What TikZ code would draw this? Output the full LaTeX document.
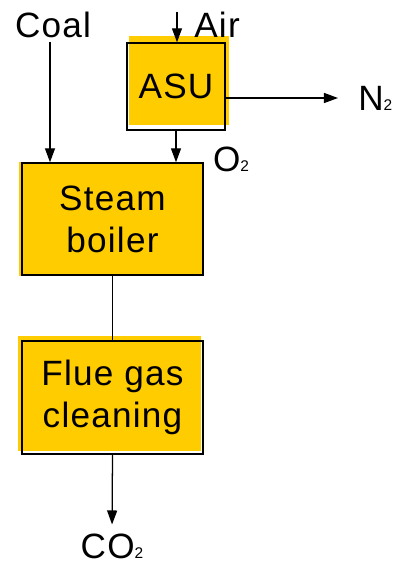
\documentclass[tikz,border=0pt]{standalone}
\usepackage{fontspec}
\setmainfont{Liberation Sans}[LetterSpace=3.5]
\usetikzlibrary{arrows.meta,backgrounds}
\definecolor{Amber}{HTML}{FFCC00}
\newcommand{\lowidx}[1]{{\fontsize{11}{11}\selectfont #1}}

\begin{document}
\begin{tikzpicture}[x=.025cm,y=-.025cm,
unit/.style={draw=black,line width=1pt,align=center,inner sep=0pt,font=\fontsize{25}{30}\selectfont},
tag/.style={inner sep=0pt,font=\fontsize{25}{30}\selectfont},
arrow/.style={-{Triangle[length=3.5mm,width=2.5mm]},line width=.9pt},
link/.style={line width=.9pt}]
\useasboundingbox (0,0) rectangle (397,564);
\node[unit,minimum width=2.45cm,minimum height=2.175cm](asu) at (176,86.5){ASU};
\node[unit,minimum width=4.525cm,minimum height=2.8cm](boiler) at (112.5,219){Steam\\boiler};
\node[unit,minimum width=4.525cm,minimum height=2.825cm](flue) at (112.5,397.5){Flue gas\\cleaning};
\node[tag](coal) at (53,25){Coal};
\node[tag](air) at (217,25){Air};
\node[tag](oxy) at (231,159){O\lowidx{2}};
\node[tag,anchor=west](nitro) at (358,98){N\lowidx{2}};
\node[tag](co2) at (112,546){CO\lowidx{2}};
\coordinate (airin) at (177,12);
\coordinate (coalout) at (50,42);
% yellow fills sit slightly off the outlines
\begin{scope}[on background layer]
\fill[Amber]([shift={(3,-6)}]asu.south west) rectangle ([shift={(3,-6)}]asu.north east);
\fill[Amber]([shift={(-2,0)}]boiler.south west) rectangle ([shift={(-2,0)}]boiler.north east);
\fill[Amber]([shift={(-3,-4)}]flue.south west) rectangle ([shift={(-3,-4)}]flue.north east);
\end{scope}
\draw[arrow](airin) -- (airin |- asu.north);
\draw[arrow](coalout) -- (coalout |- boiler.north);
\draw[arrow](asu.south) -- (asu.south |- boiler.north);
\draw[arrow](asu.east |- nitro.west) -- ([xshift=-.5cm]nitro.west);
\draw[link](boiler.south) -- (flue.north);
\draw[arrow,shorten >=.22cm](flue.south) -- (co2.north);
\end{tikzpicture}
\end{document}
